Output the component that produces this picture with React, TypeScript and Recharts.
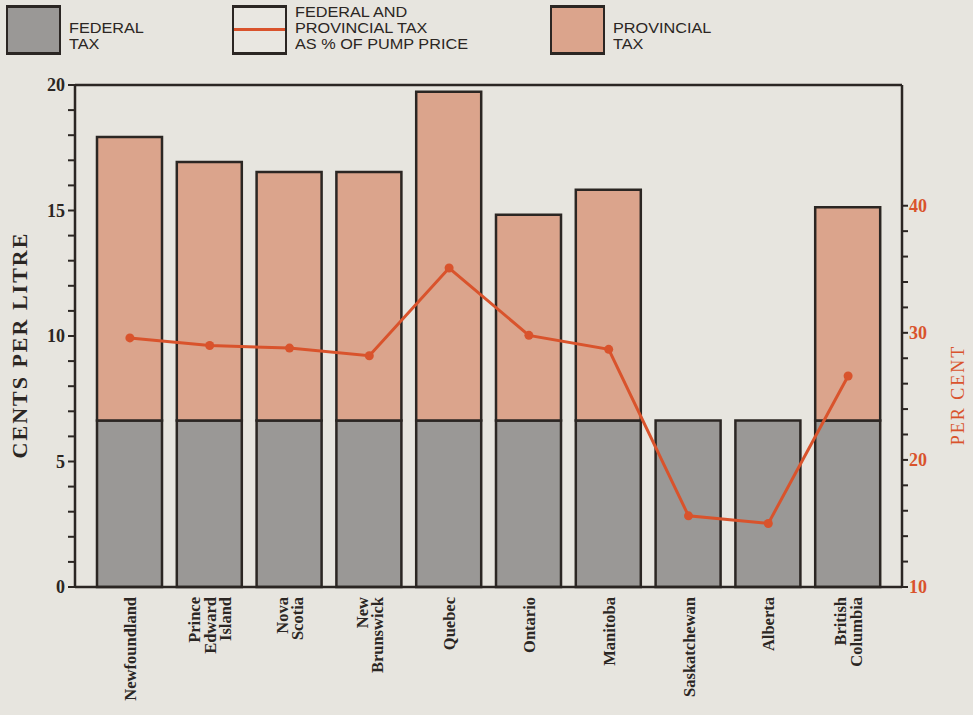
import React from "react";
import {
  Bar,
  ComposedChart,
  Line,
  ReferenceLine,
  XAxis,
  YAxis,
} from "recharts";

const provinces = [
  "Newfoundland",
  "Prince Edward Island",
  "Nova Scotia",
  "New Brunswick",
  "Quebec",
  "Ontario",
  "Manitoba",
  "Saskatchewan",
  "Alberta",
  "British Columbia",
];
const federalTax = [6.63, 6.63, 6.63, 6.63, 6.63, 6.63, 6.63, 6.63, 6.63, 6.63];
const provincialTax = [11.3, 10.3, 9.9, 9.9, 13.1, 8.2, 9.2, 0, 0, 8.5];
const taxPercent = [29.6, 29.0, 28.8, 28.2, 35.1, 29.8, 28.7, 15.6, 15.0, 26.6];

const centsTicks = [0, 1, 2, 3, 4, 5, 6, 7, 8, 9, 10, 11, 12, 13, 14, 15, 16, 17, 18, 19, 20];
const percentTicks = [10, 12, 14, 16, 18, 20, 22, 24, 26, 28, 30, 32, 34, 36, 38, 40];

const legendItems = [
  { key: "federal", lines: ["FEDERAL", "TAX"], fill: "#9a9896", x: 6, line: false },
  {
    key: "pct",
    lines: ["FEDERAL AND", "PROVINCIAL TAX", "AS % OF PUMP PRICE"],
    fill: "#e9e7e1",
    x: 232,
    line: true,
  },
  { key: "prov", lines: ["PROVINCIAL", "TAX"], fill: "#dba48c", x: 550, line: false },
];

const data = provinces.map((name, i) => ({
  name,
  federal: federalTax[i],
  provincial: provincialTax[i],
  pct: taxPercent[i],
}));

const PAPER = "#e7e5df";
const INK = "#2b2623";
const ORANGE = "#d9532c";
const SERIF = "'Liberation Serif', 'DejaVu Serif', serif";
const SANS = "'Liberation Sans', Arial, sans-serif";

function LeftTick(props: any) {
  const { x, y, payload } = props;
  if (payload.value % 5 !== 0) return <g />;
  return (
    <text x={x} y={y + 6} textAnchor="end" fontFamily={SERIF} fontWeight="bold" fontSize={18} fill={INK}>
      {payload.value}
    </text>
  );
}

function RightTick(props: any) {
  const { x, y, payload } = props;
  if (payload.value % 10 !== 0) return <g />;
  return (
    <text x={x} y={y + 6} textAnchor="start" fontFamily={SERIF} fontWeight="bold" fontSize={18} fill={ORANGE}>
      {payload.value}
    </text>
  );
}

function ProvinceTick(props: any) {
  const { x, y, payload } = props;
  const words = String(payload.value).split(" ");
  const lh = 15.5;
  return (
    <g transform={`translate(${x},${y})`}>
      <text transform="rotate(-90)" textAnchor="end" fontFamily={SERIF} fontWeight="bold" fontSize={16.5} fill={INK}>
        {words.map((w, i) => (
          <tspan key={w} x={0} y={6 + (i - (words.length - 1) / 2) * lh}>
            {w}
          </tspan>
        ))}
      </text>
    </g>
  );
}

function LegendBlock() {
  return (
    <div style={{ position: "absolute", left: 0, top: 0, width: 973, height: 60 }}>
      {legendItems.map((it) => (
        <div key={it.key}>
          <div
            style={{
              position: "absolute",
              left: it.x,
              top: 5,
              width: 51,
              height: 44,
              background: it.fill,
              borderTop: `3px solid ${INK}`,
              borderBottom: `3px solid ${INK}`,
              borderLeft: `2px solid ${INK}`,
              borderRight: `2px solid ${INK}`,
            }}
          >
            {it.line && (
              <div style={{ position: "absolute", left: 0, right: 0, top: 20, height: 3, background: ORANGE }} />
            )}
          </div>
          <div
            style={{
              position: "absolute",
              left: it.x + 63,
              top: it.lines.length === 3 ? 4 : 20,
              fontFamily: SANS,
              fontSize: 14.5,
              lineHeight: "16px",
              color: INK,
              whiteSpace: "nowrap",
              transform: "scaleX(1.12)",
              transformOrigin: "left top",
            }}
          >
            {it.lines.map((l) => (
              <div key={l}>{l}</div>
            ))}
          </div>
        </div>
      ))}
    </div>
  );
}

export default function App() {
  return (
    <div style={{ position: "absolute", left: 0, top: 0, width: 973, height: 715, background: PAPER }}>
      <LegendBlock />
      <ComposedChart
        width={973}
        height={715}
        data={data}
        margin={{ top: 85, right: 0, left: 0, bottom: 0 }}
      >
        <XAxis
          dataKey="name"
          height={128}
          interval={0}
          padding={{ left: 15, right: 14 }}
          axisLine={{ stroke: INK, strokeWidth: 2.5 }}
          tickLine={false}
          tick={<ProvinceTick />}
          tickMargin={4}
        />
        <YAxis
          yAxisId="left"
          width={75}
          domain={[0, 20]}
          ticks={centsTicks}
          interval={0}
          axisLine={{ stroke: INK, strokeWidth: 2.5 }}
          tickLine={{ stroke: INK, strokeWidth: 2 }}
          tickSize={7}
          tickMargin={3}
          tick={<LeftTick />}
          label={() => (
            <text
              x={27}
              y={345}
              transform="rotate(-90, 27, 345)"
              textAnchor="middle"
              fontFamily={SERIF}
              fontWeight="bold"
              fontSize={22}
              letterSpacing={2}
              fill={INK}
            >
              CENTS PER LITRE
            </text>
          )}
        />
        <YAxis
          yAxisId="right"
          orientation="right"
          width={71}
          domain={[10, 49.5]}
          ticks={percentTicks}
          interval={0}
          allowDataOverflow
          axisLine={{ stroke: INK, strokeWidth: 2.5 }}
          tickLine={{ stroke: INK, strokeWidth: 2 }}
          tickSize={6}
          tickMargin={1}
          tick={<RightTick />}
          label={() => (
            <text
              x={964}
              y={395}
              transform="rotate(-90, 964, 395)"
              textAnchor="middle"
              fontFamily={SERIF}
              fontSize={18}
              letterSpacing={2}
              fill={ORANGE}
            >
              PER CENT
            </text>
          )}
        />
        <ReferenceLine yAxisId="left" y={20} stroke={INK} strokeWidth={2.5} ifOverflow="visible" />
        <Bar
          yAxisId="left"
          dataKey="federal"
          stackId="tax"
          fill="#9a9896"
          stroke={INK}
          strokeWidth={2.5}
          barSize={65}
          isAnimationActive={false}
        />
        <Bar
          yAxisId="left"
          dataKey="provincial"
          stackId="tax"
          fill="#dba48c"
          stroke={INK}
          strokeWidth={2.5}
          barSize={65}
          isAnimationActive={false}
        />
        <Line
          yAxisId="right"
          dataKey="pct"
          stroke={ORANGE}
          strokeWidth={3}
          dot={{ r: 4.5, fill: ORANGE, stroke: ORANGE, strokeWidth: 0 }}
          isAnimationActive={false}
        />
      </ComposedChart>
    </div>
  );
}
